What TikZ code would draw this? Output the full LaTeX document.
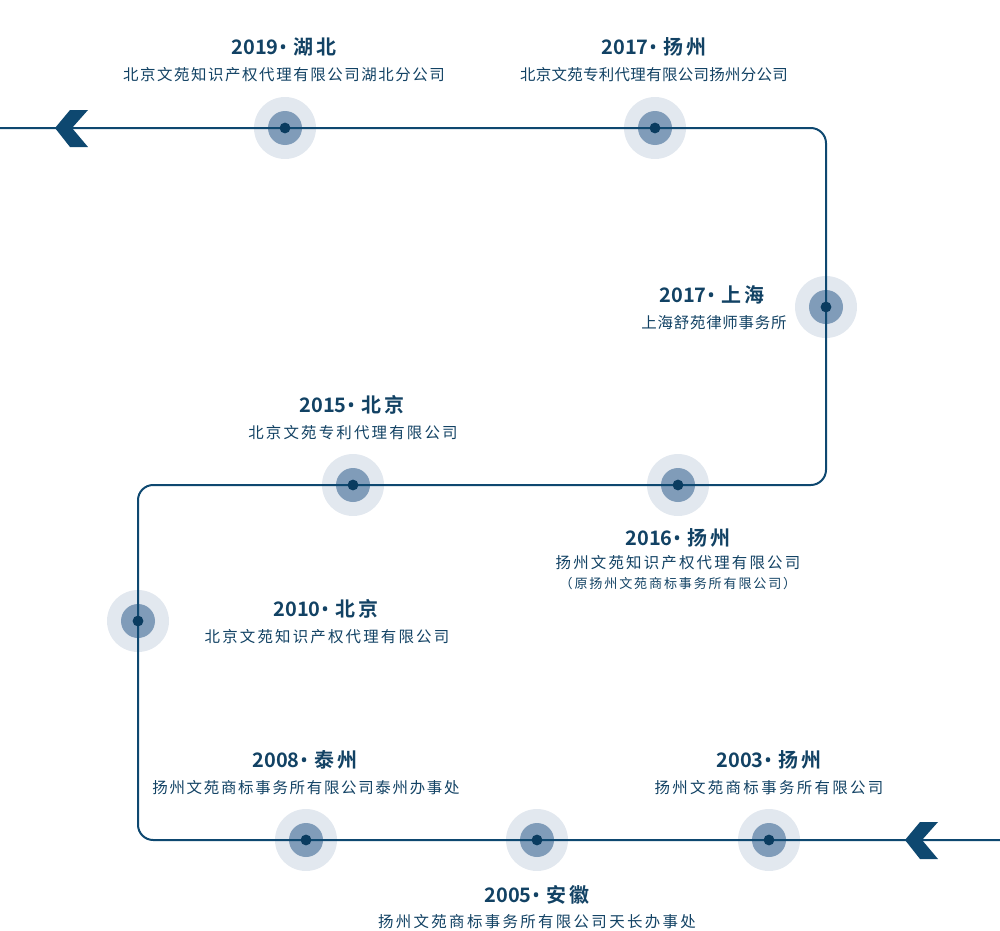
\documentclass[tikz,border=0pt]{standalone}
\usepackage{fontspec}
\setmainfont{Noto Sans CJK SC}[BoldFont={Noto Sans CJK SC Bold}]
\newfontfamily\latinfont{Noto Sans}
\usetikzlibrary{positioning,calc}
\definecolor{tlnavy}{RGB}{14,72,112}
\definecolor{tltext}{RGB}{18,66,100}
\definecolor{halolight}{RGB}{226,232,239}
\definecolor{halomid}{RGB}{128,156,185}
\definecolor{dotnavy}{RGB}{10,60,96}
\newcommand{\yeartitle}[3]{#1\hspace{0.2mm}{\latinfont •}\hspace{1.6mm}#2\hspace{0.8mm}#3}
\tikzset{
  tline/.style={draw=tlnavy, line width=0.5mm, rounded corners=3.8mm},
  halo/.style={circle, fill=halolight, minimum size=15.5mm, inner sep=0pt,
               path picture={\fill[halomid] (path picture bounding box.center) circle (4.25mm);}},
  tdot/.style={circle, fill=dotnavy, minimum size=2.7mm, inner sep=0pt},
  yearlbl/.style={text=tltext, font=\fontsize{14.2}{17}\selectfont\bfseries, inner sep=0pt},
  desclbl/.style={text=tltext, font=\fontsize{11}{13}\selectfont\addfontfeatures{LetterSpace=#1}, inner sep=0pt},
  desclbl/.default=12,
  notelbl/.style={text=tltext, font=\fontsize{9.3}{11}\selectfont\addfontfeatures{LetterSpace=14}, inner sep=0pt},
  chevron/.pic={\fill[tlnavy] (0,0) -- (15,-18) -- (33,-18) -- (17,0) -- (33,19) -- (15,19) -- cycle;},
}
\begin{document}
\begin{tikzpicture}[x=0.25mm, y=-0.25mm]
  \useasboundingbox (0,0) rectangle (1000,931);
  % markers on the timeline
  \node[halo] (h2019) at (285,128) {};
  \node[halo] (h2017y) at (655,128) {};
  \node[halo] (h2017s) at (826,307) {};
  \node[halo] (h2016) at (678,485) {};
  \node[halo] (h2015) at (353,485) {};
  \node[halo] (h2010) at (138,621) {};
  \node[halo] (h2008) at (306,840) {};
  \node[halo] (h2005) at (537,840) {};
  \node[halo] (h2003) at (769,840) {};
  % the timeline itself
  \coordinate (tstart) at (1000,840);
  \coordinate (tend) at (0,128);
  \coordinate (c1) at (138,840);
  \coordinate (c2) at (138,485);
  \coordinate (c3) at (826,485);
  \coordinate (c4) at (826,128);
  \draw[tline] (tstart) -- (c1) -- (c2) -- (c3) -- (c4) -- (tend);
  \foreach \m in {h2019,h2017y,h2017s,h2016,h2015,h2010,h2008,h2005,h2003}
    \node[tdot] at (\m.center) {};
  \pic at (55,128) {chevron};
  \pic at (905,840) {chevron};
  % labels
  \node[yearlbl] (y2019) at (284,47) {\yeartitle{2019}{湖}{北}};
  \node[desclbl=10] (d2019) at (284,75) {北京文苑知识产权代理有限公司湖北分公司};
  \node[yearlbl] (y2017y) at (654,47) {\yeartitle{2017}{扬}{州}};
  \node[desclbl=2] (d2017y) at (654,75) {北京文苑专利代理有限公司扬州分公司};
  \node[yearlbl] (y2017s) at (712,295) {\yeartitle{2017}{上}{海}};
  \node[desclbl=5] (d2017s) at (714,323) {上海舒苑律师事务所};
  \node[yearlbl] (y2015) at (352,405) {\yeartitle{2015}{北}{京}};
  \node[desclbl=14] (d2015) at (353,433) {北京文苑专利代理有限公司};
  \node[yearlbl] (y2016) at (678,538) {\yeartitle{2016}{扬}{州}};
  \node[desclbl=14] (d2016) at (678,563) {扬州文苑知识产权代理有限公司};
  \node[notelbl] (n2016) at (678,584) {（原扬州文苑商标事务所有限公司）};
  \node[yearlbl] (y2010) at (326,609) {\yeartitle{2010}{北}{京}};
  \node[desclbl=14] (d2010) at (327,637) {北京文苑知识产权代理有限公司};
  \node[yearlbl] (y2008) at (305,760) {\yeartitle{2008}{泰}{州}};
  \node[desclbl=11] (d2008) at (306,788) {扬州文苑商标事务所有限公司泰州办事处};
  \node[yearlbl] (y2003) at (769,760) {\yeartitle{2003}{扬}{州}};
  \node[desclbl=15] (d2003) at (769,788) {扬州文苑商标事务所有限公司};
  \node[yearlbl] (y2005) at (537,895) {\yeartitle{2005}{安}{徽}};
  \node[desclbl=15] (d2005) at (537,922) {扬州文苑商标事务所有限公司天长办事处};
\end{tikzpicture}
\end{document}
